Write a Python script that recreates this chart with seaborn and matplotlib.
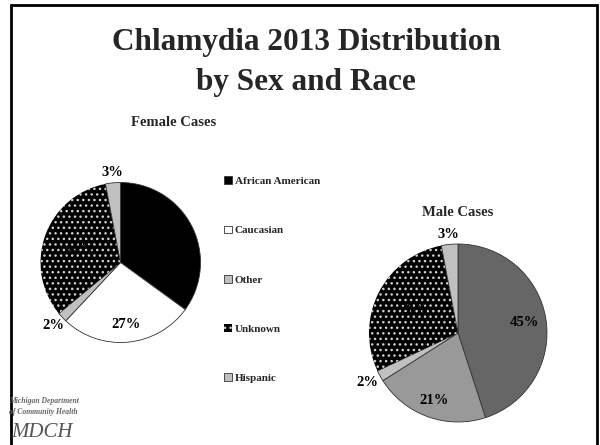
import numpy as np
import matplotlib
matplotlib.use("Agg")
import matplotlib.pyplot as plt
from matplotlib.patches import Rectangle
import seaborn as sns

# chlamydia 2013 share of cases by race, in percent
races = ["African American", "Caucasian", "Other", "Unknown", "Hispanic"]
female_pct = [35, 27, 2, 33, 3]
male_pct = [45, 21, 2, 29, 3]

female_colors = ["#000000", "#ffffff", "#c0c0c0", "#000000", "#c0c0c0"]
male_colors = ["#666666", "#999999", "#c0c0c0", "#000000", "#c0c0c0"]

# how far out each percent label sits (fraction of radius)
female_label_r = [0.75, 0.78, 1.15, 0.55, 1.13]
male_label_r = [0.76, 0.81, 1.16, 0.55, 1.11]

sns.set_style("white")
plt.rcParams["font.family"] = ["Liberation Serif", "DejaVu Serif"]
plt.rcParams["hatch.linewidth"] = 1.0

W, H = 600, 445
fig = plt.figure(figsize=(W / 100, H / 100), dpi=100)
ax = fig.add_axes([0, 0, 1, 1])


def draw_pie(values, colors, center, radius, label_r):
    """Clockwise pie from 12 o'clock, Unknown slice dotted."""
    wedges, _ = ax.pie(values, colors=colors, startangle=90, counterclock=False,
                       center=center, radius=radius,
                       wedgeprops=dict(edgecolor="#333333", linewidth=0.6))
    dotted = wedges[races.index("Unknown")]
    dotted.set_hatch("...")
    dotted.set_edgecolor("#d0d0d0")
    dotted.set_linewidth(0)
    for w, v, r in zip(wedges, values, label_r):
        ang = np.deg2rad((w.theta1 + w.theta2) / 2)
        ax.text(center[0] + r * radius * np.cos(ang),
                center[1] + r * radius * np.sin(ang),
                f"{v}%", ha="center", va="center",
                fontsize=10.5, fontweight="bold", color="black")
    return wedges


female_wedges = draw_pie(female_pct, female_colors, (120.5, H - 262.5), 80, female_label_r)
draw_pie(male_pct, male_colors, (458, H - 333), 89, male_label_r)

ax.set_xlim(0, W)
ax.set_ylim(0, H)
ax.set_aspect("equal")
ax.axis("off")

# slide frame (runs off the bottom)
ax.add_patch(Rectangle((11, -20), 586, H - 5 + 20, fill=False,
                       edgecolor="black", linewidth=2))

# titles
ax.text(W / 2 + 6, H - 50, "Chlamydia 2013 Distribution", ha="center", va="baseline",
        fontsize=22.5, fontweight="bold")
ax.text(W / 2 + 6, H - 90, "by Sex and Race", ha="center", va="baseline",
        fontsize=22.5, fontweight="bold")
ax.text(174, H - 126, "Female Cases", ha="center", va="baseline",
        fontsize=10.5, fontweight="bold")
ax.text(458, H - 216, "Male Cases", ha="center", va="baseline",
        fontsize=10.5, fontweight="bold")

# legend keyed off the female slices
fig.legend(female_wedges, races, loc="upper left",
           bbox_to_anchor=(220 / W, 1 - 172 / H), frameon=False,
           prop=dict(family=["Liberation Serif"], weight="bold", size=8),
           labelspacing=3.55, handlelength=0.7, handleheight=0.7,
           handletextpad=0.25, borderaxespad=0)

# department logo, bottom left
ax.text(9, H - 403, "Michigan Department", fontsize=5.5, style="italic",
        fontweight="bold", color="#666666", va="baseline")
ax.text(9, H - 414, "of Community Health", fontsize=5.5, style="italic",
        fontweight="bold", color="#666666", va="baseline")
ax.text(11, H - 437, "MDCH", fontsize=15, style="italic",
        color="#555555", va="baseline")

fig.savefig("out.png", dpi=100)
